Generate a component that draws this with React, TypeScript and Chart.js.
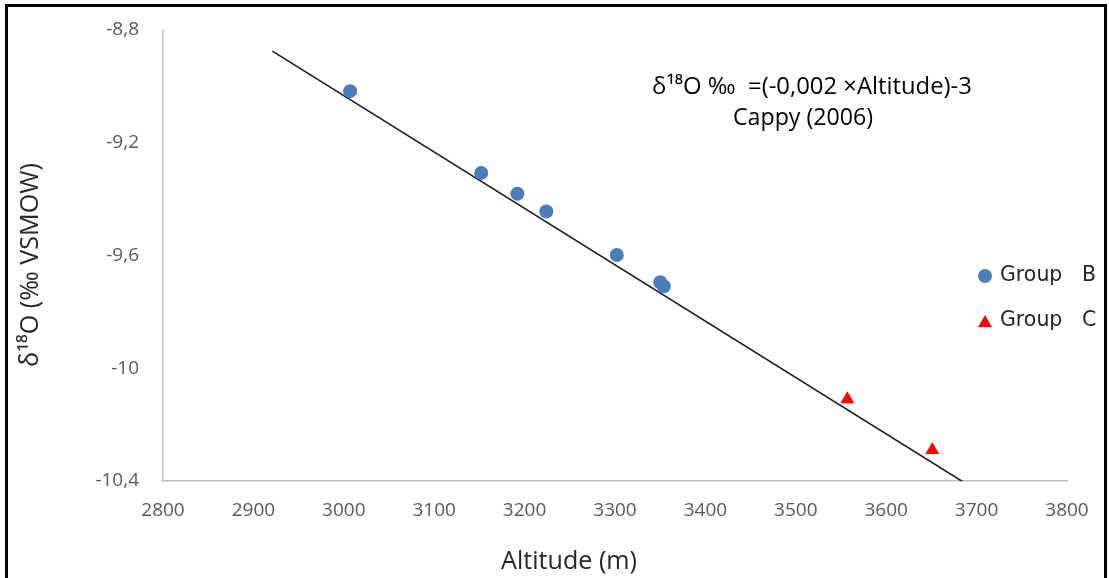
import React, { useEffect, useRef } from "react";
import { Chart, registerables } from "chart.js";

Chart.register(...registerables);

// ---- data ----
const groupBAltitude = [3007, 3152, 3192, 3224, 3302, 3350, 3354];
const groupBDelta = [-9.017, -9.307, -9.381, -9.444, -9.598, -9.695, -9.709];
const groupCAltitude = [3557, 3651];
const groupCDelta = [-10.11, -10.29];
const lineAltitude = [2921, 3686];
const lineDelta = [-8.875, -10.405];

const xTickValues = [2800, 2900, 3000, 3100, 3200, 3300, 3400, 3500, 3600, 3700, 3800];
const xTickLabels = ["2800", "2900", "3000", "3100", "3200", "3300", "3400", "3500", "3600", "3700", "3800"];
const yTickValues = [-10.4, -10, -9.6, -9.2, -8.8];
const yTickLabels = ["-10,4", "-10", "-9,6", "-9,2", "-8,8"];

const seriesNames = ["Group   B", "Group   C"];
const equationText = "δ¹⁸O ‰  =(-0,002 ×Altitude)-3";
const sourceText = "Cappy (2006)";
const xTitle = "Altitude (m)";
const yTitle = "δ¹⁸O (‰ VSMOW)";

const BLUE = "#4a7ebb";
const RED = "#ff0000";

function fitFont(ctx: CanvasRenderingContext2D, text: string, family: string, target: number) {
  ctx.font = `20px ${family}`;
  const w = ctx.measureText(text).width;
  const size = (20 * target) / w;
  ctx.font = `${size}px ${family}`;
}

const overlayPlugin = {
  id: "overlay",
  afterDraw(chart: any) {
    const ctx: CanvasRenderingContext2D = chart.ctx;
    ctx.save();
    ctx.textBaseline = "middle";

    // equation annotation
    ctx.fillStyle = "#000000";
    ctx.textAlign = "center";
    fitFont(ctx, equationText, "'Open Sans'", 320);
    ctx.fillText(equationText, 812, 87);
    fitFont(ctx, sourceText, "'Open Sans'", 140);
    ctx.fillText(sourceText, 803, 118);

    // legend
    ctx.textAlign = "left";
    ctx.fillStyle = "#262626";
    fitFont(ctx, seriesNames[0], "'DejaVu Sans'", 96);
    ctx.fillText(seriesNames[0], 1000, 276);
    ctx.fillText(seriesNames[1], 1000, 321);
    ctx.fillStyle = BLUE;
    ctx.beginPath();
    ctx.arc(985, 276, 7, 0, Math.PI * 2);
    ctx.fill();
    ctx.fillStyle = RED;
    const r = 8;
    const cx = 985, cy = 323;
    ctx.beginPath();
    ctx.moveTo(cx, cy - r);
    ctx.lineTo(cx + r * Math.sin((2 * Math.PI) / 3), cy - r * Math.cos((2 * Math.PI) / 3));
    ctx.lineTo(cx - r * Math.sin((2 * Math.PI) / 3), cy - r * Math.cos((2 * Math.PI) / 3));
    ctx.closePath();
    ctx.fill();

    // axis titles
    ctx.fillStyle = "#262626";
    ctx.textAlign = "center";
    fitFont(ctx, xTitle, "'Open Sans'", 136);
    ctx.fillText(xTitle, 569, 562);

    ctx.translate(31, 265);
    ctx.rotate(-Math.PI / 2);
    fitFont(ctx, yTitle, "'Open Sans'", 204);
    ctx.fillText(yTitle, 0, 0);
    ctx.restore();
  },
};

export default function App() {
  const ref = useRef<HTMLCanvasElement>(null);

  useEffect(() => {
    const chart = new Chart(ref.current!, {
      type: "scatter",
      data: {
        datasets: [
          {
            label: "Group B",
            data: groupBAltitude.map((x, i) => ({ x, y: groupBDelta[i] })),
            pointStyle: "circle",
            pointRadius: 7,
            pointBackgroundColor: BLUE,
            pointBorderWidth: 0,
            order: 1,
          },
          {
            label: "Group C",
            data: groupCAltitude.map((x, i) => ({ x, y: groupCDelta[i] })),
            pointStyle: "triangle",
            pointRadius: 8,
            pointBackgroundColor: RED,
            pointBorderWidth: 0,
            order: 1,
          },
          {
            label: "Cappy (2006)",
            data: lineAltitude.map((x, i) => ({ x, y: lineDelta[i] })),
            showLine: true,
            borderColor: "#1a1a1a",
            borderWidth: 1.6,
            pointRadius: 0,
            order: 2,
          } as any,
        ],
      },
      options: {
        responsive: false,
        animation: false,
        layout: { padding: { top: 30, right: 42, left: 0, bottom: 0 } },
        plugins: { legend: { display: false }, tooltip: { enabled: false } },
        scales: {
          x: {
            type: "linear",
            min: 2800,
            max: 3800,
            afterBuildTicks: (s: any) => {
              s.ticks = xTickValues.map((v) => ({ value: v }));
            },
            afterFit: (s: any) => {
              s.height = 97;
              s.paddingLeft = 10;
              s.paddingRight = 10;
            },
            grid: { display: false, drawTicks: false },
            border: { display: true, color: "#bfbfbf", width: 1.5 },
            ticks: {
              padding: 18,
              color: "#595959",
              font: { family: "'Open Sans'", size: 19 },
              maxRotation: 0,
              autoSkip: false,
              callback: (_v: any, i: number) => xTickLabels[i],
            },
          },
          y: {
            type: "linear",
            min: -10.4,
            max: -8.8,
            afterBuildTicks: (s: any) => {
              s.ticks = yTickValues.map((v) => ({ value: v }));
            },
            afterFit: (s: any) => {
              s.width = 163;
              s.paddingTop = 10;
              s.paddingBottom = 10;
            },
            grid: { display: false, drawTicks: false },
            border: { display: true, color: "#bfbfbf", width: 1.5 },
            ticks: {
              padding: 24,
              color: "#595959",
              font: { family: "'Open Sans'", size: 19 },
              autoSkip: false,
              callback: (_v: any, i: number) => yTickLabels[i],
            },
          },
        },
      },
      plugins: [overlayPlugin],
    });
    return () => chart.destroy();
  }, []);

  return (
    <div style={{ position: "fixed", left: 0, top: 0, width: 1109, height: 578, overflow: "hidden", background: "#fff" }}>
      <div
        style={{
          position: "absolute",
          left: 5,
          top: 4,
          width: 1102,
          height: 700,
          border: "3px solid #000",
          boxSizing: "border-box",
        }}
      />
      <canvas ref={ref} width={1109} height={578} style={{ position: "absolute", left: 0, top: 0 }} />
    </div>
  );
}
